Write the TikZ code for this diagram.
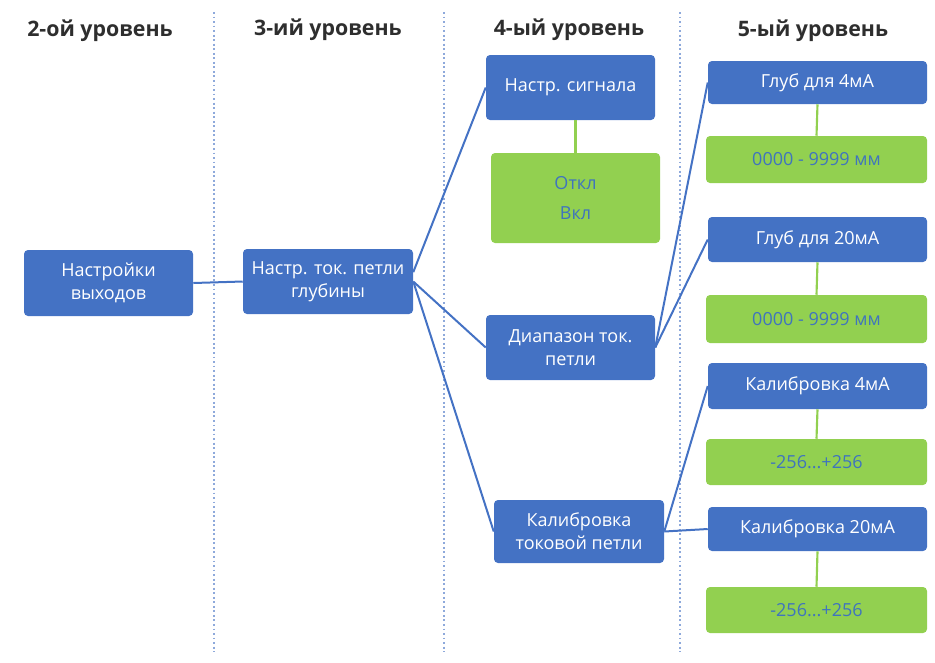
\documentclass[tikz,border=0pt]{standalone}
\usepackage{fontspec}
\setmainfont{Open Sans}
\definecolor{bblue}{HTML}{4472C4}
\definecolor{bgreen}{HTML}{92D050}
\definecolor{gtext}{HTML}{3F74BE}
\definecolor{dotc}{HTML}{8EA9DB}
\definecolor{hdr}{HTML}{2E2E2E}
\newcommand\boxnode[7]{%
  \pgfmathsetmacro\bxcx{(#2+#4)/2}%
  \pgfmathsetmacro\bxcy{(#3+#5)/2}%
  \pgfmathsetmacro\bxw{(#4-#2)*0.75}%
  \pgfmathsetmacro\bxh{(#5-#3)*0.75}%
  \node[#6, minimum width=\bxw pt, minimum height=\bxh pt] (#1) at (\bxcx,\bxcy) {#7};}
\tikzset{
  bluebox/.style={fill=bblue, rounded corners=3pt, inner sep=0pt, align=center,
    text=white, font=\fontsize{13.5}{17.5}\selectfont},
  greenbox/.style={fill=bgreen, rounded corners=3pt, inner sep=0pt, align=center,
    text=gtext, font=\fontsize{13.5}{17.5}\selectfont},
  header/.style={text=hdr, font=\fontsize{16}{19}\selectfont\bfseries},
  bline/.style={draw=bblue, line width=1.5pt},
  gline/.style={draw=bgreen, line width=1.6pt},
  sep/.style={draw=dotc, dotted, line width=1.4pt}
}
\begin{document}
\begin{tikzpicture}[x=0.75pt, y=-0.75pt]
\useasboundingbox (0,0) rectangle (935,662);
% separators
\coordinate (s1t) at (214,12); \coordinate (s1b) at (214,652);
\coordinate (s2t) at (444,12); \coordinate (s2b) at (444,652);
\coordinate (s3t) at (680,12); \coordinate (s3b) at (680,652);
\draw[sep] (s1t) -- (s1b);
\draw[sep] (s2t) -- (s2b);
\draw[sep] (s3t) -- (s3b);
% headers
\node[header] (h2) at (100,31) {2-ой уровень};
\node[header] (h3) at (328,30) {3-ий уровень};
\node[header] (h4) at (569,30) {4-ый уровень};
\node[header] (h5) at (813,31) {5-ый уровень};
% boxes
\boxnode{a}{24}{250}{193}{316}{bluebox}{Настройки\\выходов}
\boxnode{b}{243}{249}{413}{314}{bluebox}{Настр. ток. петли\\глубины}
\boxnode{c1}{486}{55}{655}{120}{bluebox}{Настр. сигнала}
\boxnode{g1}{491}{153}{660}{243}{greenbox}{Откл\\[5pt]Вкл}
\boxnode{c2}{486}{315}{655}{380}{bluebox}{Диапазон ток.\\петли}
\boxnode{c3}{494}{500}{664}{563}{bluebox}{Калибровка\\токовой петли}
\boxnode{d1}{708}{61}{927}{104}{bluebox}{Глуб для 4мА}
\boxnode{e1}{706}{136}{927}{183}{greenbox}{0000 - 9999 мм}
\boxnode{d2}{708}{217}{927}{262}{bluebox}{Глуб для 20мА}
\boxnode{e2}{706}{295}{927}{343}{greenbox}{0000 - 9999 мм}
\boxnode{d3}{708}{363}{927}{409}{bluebox}{Калибровка 4мА}
\boxnode{e3}{706}{439}{927}{485}{greenbox}{-256...+256}
\boxnode{d4}{708}{507}{927}{551}{bluebox}{Калибровка 20мА}
\boxnode{e4}{706}{587}{927}{633}{greenbox}{-256...+256}
% blue connectors
\draw[bline] (a.east) -- (b.west);
\draw[bline] ([yshift=7pt]b.east) -- (c1.west);
\draw[bline] (b.east) -- (c2.west);
\draw[bline] (b.east) -- (c3.west);
\draw[bline] (c2.east) -- (d1.west);
\draw[bline] (c2.east) -- (d2.west);
\draw[bline] (c3.east) -- (d3.west);
\draw[bline] (c3.east) -- (d4.west);
% green connectors
\draw[gline] (g1.north |- c1.south) -- (g1.north);
\draw[gline] (d1.south) -- (e1.north);
\draw[gline] (d2.south) -- (e2.north);
\draw[gline] (d3.south) -- (e3.north);
\draw[gline] (d4.south) -- (e4.north);
\end{tikzpicture}
\end{document}
